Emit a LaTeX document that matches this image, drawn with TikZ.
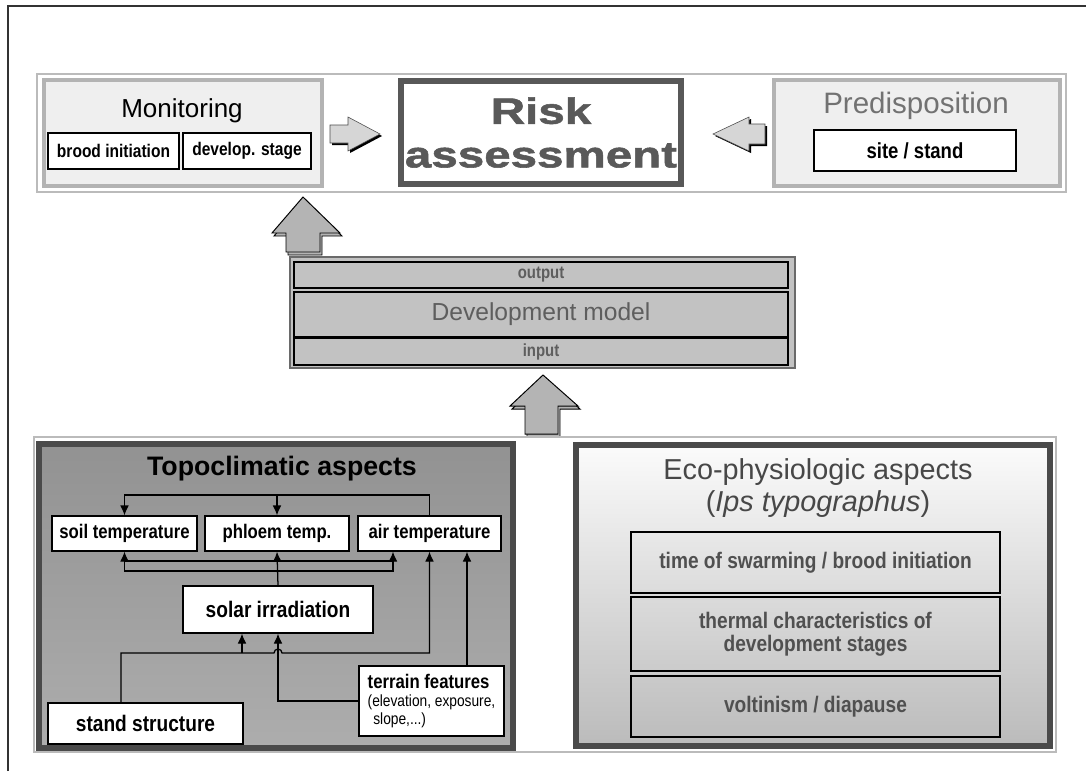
\documentclass[tikz,border=0pt]{standalone}
\usepackage{fontspec}
\setmainfont{Liberation Sans}
\newfontfamily\narrowfont[FakeStretch=0.85]{Liberation Sans}
\newfontfamily\blackfont[FakeStretch=1.3,FakeBold=1.5]{Liberation Sans}
\usetikzlibrary{fit,calc,arrows.meta}
\definecolor{bandgray}{HTML}{BBBBBB}
\definecolor{panelfill}{HTML}{EFEFEF}
\definecolor{panelline}{HTML}{B3B3B3}
\definecolor{riskline}{HTML}{585858}
\definecolor{risktext}{HTML}{595959}
\definecolor{predtext}{HTML}{727272}
\definecolor{arrowfill}{HTML}{D6D6D6}
\definecolor{upfill}{HTML}{B4B4B4}
\definecolor{modelfill}{HTML}{C2C2C2}
\definecolor{modelline}{HTML}{6A6A6A}
\definecolor{modeltext}{HTML}{5E5E5E}
\definecolor{topotop}{HTML}{929292}
\definecolor{topomid}{HTML}{E4E4E4}
\definecolor{topobot}{HTML}{ADADAD}
\definecolor{panelborder}{HTML}{4A4A4A}
\definecolor{ecotop}{HTML}{FBFBFB}
\definecolor{ecobot}{HTML}{BBBBBB}
\definecolor{ecotext}{HTML}{474747}
\definecolor{ecolabel}{HTML}{505050}
\begin{document}
\begin{tikzpicture}[x=0.025cm,y=-0.025cm,
  lab/.style={font=\narrowfont\bfseries\fontsize{#1}{#1}\selectfont},
  box/.style={draw=black,line width=0.9pt,fill=white,inner sep=0pt},
  panel/.style={draw=panelline,line width=3pt,fill=panelfill,inner sep=0pt},
  strip/.style={draw=black,line width=1pt,fill=modelfill,inner sep=0pt},
  ecobox/.style={draw=black,line width=1pt,inner sep=0pt},
  conn/.style={line width=0.9pt,-{Latex[length=2.5mm,width=2.2mm]}},
  flatarrow/.style={draw=black!70,line width=0.4pt,fill=arrowfill},
  upblock/.style={draw=black,line width=0.7pt,fill=upfill}]
\useasboundingbox (0,0) rectangle (1086,771);
\draw[line width=1.5pt,black!80] (8,771) -- (8,6) -- (1086,6);
% top row
\node[draw=bandgray,line width=2pt,fill=white,inner sep=0pt,fit={(37,74)(1066,192)}] (topband) {};
\node[panel,fit={(44,80)(322,186)}] (monitor) {};
\node[font=\fontsize{18.5}{20}\selectfont] (montitle) at (182,111) {Monitoring};
\node[box,fit={(48,133)(179,169)}] (brood) {};
\node[lab=13] (broodtxt) at (brood.center) {brood initiation};
\node[box,fit={(183,133)(311,169)}] (stage) {};
\node[lab=13] (stagetxt) at (stage.center) {develop. stage};
\node[draw=riskline,line width=4.3pt,fill=white,inner sep=0pt,fit={(401,81)(681,184)}] (risk) {};
\node[align=center,text=risktext,font=\blackfont\bfseries\fontsize{26}{31}\selectfont] (risktxt)
  at (risk.center) {Risk\\assessment};
\node[panel,fit={(774,80)(1060,186)}] (predisp) {};
\node[font=\fontsize{21}{22}\selectfont,text=predtext] (predtitle) at (916,106) {Predisposition};
\node[box,fit={(814,130)(1016,171)}] (site) {};
\node[lab=15.5] (sitetxt) at (site.center) {site / stand};
% block arrows
\fill[black] (332,127) -- (350,127) -- (350,119) -- (382,136) -- (350,153) -- (350,145) -- (332,145) -- cycle;
\filldraw[flatarrow] (330,125) -- (348,125) -- (348,117) -- (380,134) -- (348,151) -- (348,143) -- (330,143) -- cycle;
\fill[black] (767,126) -- (751,126) -- (751,119) -- (715,136) -- (751,153) -- (751,146) -- (767,146) -- cycle;
\filldraw[flatarrow] (765,124) -- (749,124) -- (749,117) -- (713,134) -- (749,151) -- (749,144) -- (765,144) -- cycle;
\filldraw[upblock] (305,200) -- (342,236) -- (322,236) -- (322,255) -- (288,255) -- (288,236) -- (274,236) -- cycle;
\filldraw[upblock] (303,197) -- (340,233) -- (320,233) -- (320,252) -- (286,252) -- (286,233) -- (272,233) -- cycle;
% model
\node[draw=modelline,line width=2pt,fill=modelfill,inner sep=0pt,fit={(290,257)(795,368)}] (model) {};
\node[strip,fit={(294,262)(788,288)}] (output) {};
\node[lab=12.5,text=modeltext] (outputtxt) at (output.center) {output};
\node[strip,fit={(294,292)(788,337)}] (devmodel) {};
\node[font=\fontsize{17.5}{18}\selectfont,text=modeltext] (devmodeltxt) at (devmodel.center) {Development model};
\node[strip,fit={(294,338)(788,365)}] (input) {};
\node[lab=12.5,text=modeltext] (inputtxt) at (input.center) {input};
\filldraw[upblock] (545,378) -- (580,409) -- (560,409) -- (560,437) -- (527,437) -- (527,409) -- (512,409) -- cycle;
\filldraw[upblock] (543,375) -- (578,406) -- (558,406) -- (558,434) -- (525,434) -- (525,406) -- (510,406) -- cycle;
% lower row
\node[draw=bandgray,line width=2pt,inner sep=0pt,fit={(34,437)(1056,752)}] (lowband) {};
\node[draw=panelborder,line width=4pt,top color=topotop,middle color=topomid,bottom color=topobot,
  inner sep=0pt,fit={(39,444)(513,748)}] (topo) {};
\node[font=\bfseries\fontsize{19}{20}\selectfont] (topotitle) at (282,469) {Topoclimatic aspects};
\node[box,fit={(52,516)(197,551)}] (soil) {};
\node[lab=14] (soiltxt) at (soil.center) {soil temperature};
\node[box,fit={(205,516)(349,551)}] (phloem) {};
\node[lab=14] (phloemtxt) at (phloem.center) {phloem temp.};
\node[box,fit={(358,516)(501,551)}] (air) {};
\node[lab=14] (airtxt) at (air.center) {air temperature};
\node[box,fit={(183,586)(373,633)}] (solar) {};
\node[lab=16] (solartxt) at (solar.center) {solar irradiation};
\node[box,fit={(48,703)(243,744)}] (stand) {};
\node[lab=16] (standtxt) at (stand.center) {stand structure};
\node[box,fit={(359,666)(504,736)}] (terrain) {};
\node[align=left,font=\narrowfont\fontsize{11.5}{13}\selectfont] (terraintxt) at (terrain.center)
  {{\bfseries\fontsize{14}{14}\selectfont terrain features}\\(elevation, exposure,\\\hspace{4pt}slope,...)};
\coordinate (topline) at (0,495);
\coordinate (loopa) at (0,561);
\coordinate (loopb) at (0,571);
\coordinate (loopr) at (393,0);
\coordinate (mid) at (0,653);
\coordinate (standx) at (121,0);
\coordinate (solarx) at (242,0);
\coordinate (terrx) at (467,0);
\draw[conn] (air.north) |- (soil.north |- topline) -- (soil.north);
\draw[conn] (phloem.north |- topline) -- (phloem.north);
\draw[conn] (solar.north) -- (phloem.south);
\draw[line width=0.9pt] (soil.south |- loopa) -- (loopr |- loopa);
\draw[conn] (loopr |- loopb) -- (soil.south |- loopb) -- (soil.south);
\draw[conn] (soil.south |- loopb) -- (loopr |- loopb) -- (loopr |- air.south);
\draw[conn] (standx |- stand.north) -- (standx |- mid) -- ($(solar.south |- mid)+(-4,0)$)
  arc[start angle=180,end angle=0,radius=0.1cm] -- (air.south |- mid) -- (air.south);
\draw[conn] (solarx |- mid) -- (solarx |- solar.south);
\draw[conn] (terrain.west) -- (solar.south |- terrain.west) -- (solar.south);
\draw[conn] (terrx |- terrain.north) -- (terrx |- air.south);
\node[draw=panelborder,line width=4pt,top color=ecotop,bottom color=ecobot,inner sep=0pt,
  fit={(576,445)(1050,746)}] (eco) {};
\node[align=center,text=ecotext,font=\fontsize{20.5}{23}\selectfont] (ecotitle) at (818,488)
  {Eco-physiologic aspects\\(\textit{Ips typographus})};
\node[ecobox,fit={(631,532)(1000,593)}] (swarm) {};
\node[lab=16,text=ecolabel] (swarmtxt) at (swarm.center) {time of swarming / brood initiation};
\node[ecobox,fit={(631,597)(1000,671)}] (thermal) {};
\node[lab=16,text=ecolabel,align=center] (thermaltxt) at (thermal.center) {thermal characteristics of\\development stages};
\node[ecobox,fit={(631,676)(1000,737)}] (volt) {};
\node[lab=16,text=ecolabel] (volttxt) at (volt.center) {voltinism / diapause};
\end{tikzpicture}
\end{document}
